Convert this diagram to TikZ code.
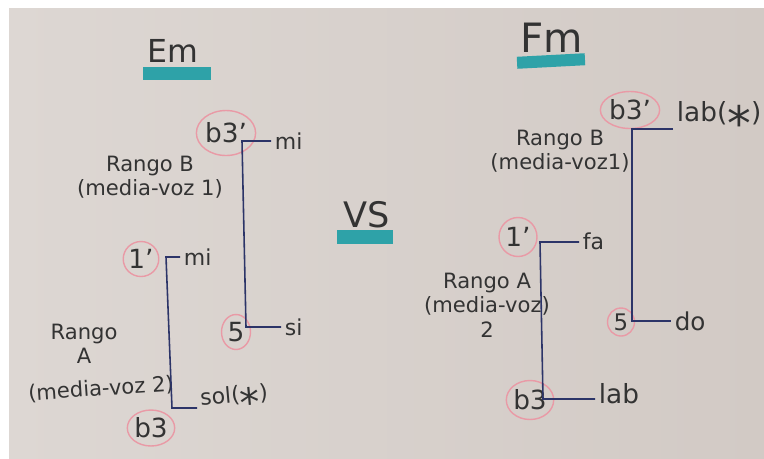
\documentclass[tikz,border=0pt]{standalone}
\usepackage{fontspec}
\setmainfont{DejaVu Sans}
\usetikzlibrary{shapes.geometric, positioning, calc}
\definecolor{paperlight}{HTML}{DDD7D3}
\definecolor{paperdark}{HTML}{D2CAC5}
\definecolor{markerteal}{HTML}{2EA2A8}
\definecolor{circlepink}{HTML}{E99AA6}
\definecolor{inknavy}{HTML}{2C3468}
\definecolor{pencil}{HTML}{333333}
\newcommand{\bigstar}{(\raisebox{-0.7em}{\scalebox{1.8}{*}})}

\begin{document}
\begin{tikzpicture}[
    x=0.02cm, y=-0.02cm,
    every node/.style={text=pencil},
    title/.style={font=\fontsize{20}{24}\selectfont, inner sep=1pt},
    marker/.style={fill=markerteal, minimum width=1.38cm, minimum height=0.26cm, inner sep=0pt},
    deg/.style={draw=circlepink, line width=0.8pt, ellipse, inner sep=0pt, minimum width=0.72cm, minimum height=0.74cm, font=\fontsize{15}{17}\selectfont},
    note/.style={font=\fontsize{12.5}{14}\selectfont, inner sep=2pt, anchor=west},
    rangetext/.style={font=\fontsize{12}{14}\selectfont, align=center, inner sep=1pt},
    bracket/.style={draw=inknavy, line width=0.9pt}
]
    % paper
    \useasboundingbox (0,0) rectangle (764,458);
    \fill[white] (0,0) rectangle (764,458);
    \shade[left color=paperlight, right color=paperdark] (9,8) rectangle (764,458);

    % Em side
    \node[title, font=\fontsize{18}{22}\selectfont] (em) at (173,51) {Em};
    \node[marker] (emBar) at (177,73) {};

    \node[deg, minimum width=0.76cm, minimum height=0.9cm] (eB3p) at (226,133) {b3'};
    \node[deg, minimum width=0.58cm, minimum height=0.7cm] (eFive) at (236,332) {5};
    \node[deg, minimum width=0.66cm, minimum height=0.7cm] (eOne) at (141,259) {1'};
    \node[deg, minimum width=0.78cm, minimum height=0.72cm] (eB3) at (151,428) {b3};

    \node[rangetext] (eRangeB) at (150,177) {Rango B\\(media-voz 1)};
    \node[rangetext] (eRangeA) at (84,344) {Rango\\A};
    \node[rangetext, rotate=4] (eVozA) at (101,389) {(media-voz 2)};

    \coordinate (eBtop) at (242,141);
    \coordinate (eBbot) at (246,327);
    \coordinate (eAtop) at (166,257);
    \coordinate (eAbot) at (172,408);

    \node[note] (eMiB) at (271,141) {mi};
    \node[note] (eSi) at (281,327) {si};
    \node[note] (eMiA) at (180,257) {mi};
    \node[note, rotate=5] (eSol) at (197,405) {sol\bigstar};

    \draw[bracket] (eBtop -| eMiB.west) -- (eBtop) -- (eBbot) -- (eBbot -| eSi.west);
    \draw[bracket] (eAtop -| eMiA.west) -- (eAtop) -- (eAbot) -- (eAbot -| eSol.west);

    % VS
    \node[title] (vs) at (367,215) {VS};
    \node[marker, minimum width=1.12cm, minimum height=0.28cm] (vsBar) at (365,237) {};

    % Fm side
    \node[title, font=\fontsize{23}{26}\selectfont] (fm) at (552,38) {Fm};
    \node[marker, minimum width=1.36cm, minimum height=0.24cm, rotate=3] (fmBar) at (551,61) {};

    \node[deg, minimum width=0.78cm, minimum height=0.74cm] (fB3p) at (630,110) {b3'};
    \node[deg, minimum width=0.54cm, minimum height=0.56cm, font=\fontsize{13}{15}\selectfont] (fFive) at (621,322) {5};
    \node[deg, minimum width=0.76cm, minimum height=0.78cm] (fOne) at (518,237) {1'};
    \node[deg, minimum width=0.8cm, minimum height=0.78cm] (fB3) at (530,400) {b3};

    \node[rangetext] (fRangeB) at (560,151) {Rango B\\(media-voz1)};
    \node[rangetext] (fRangeA) at (487,305) {Rango A\\(media-voz)\\2};

    \coordinate (fBtop) at (632,129);
    \coordinate (fBbot) at (632,321);
    \coordinate (fAtop) at (540,242);
    \coordinate (fAbot) at (543,399);

    \node[note, font=\fontsize{15}{17}\selectfont] (fLabB) at (673,121) {lab\bigstar};
    \node[note, font=\fontsize{14}{16}\selectfont] (fDo) at (671,321) {do};
    \node[note] (fFa) at (579,241) {fa};
    \node[note, font=\fontsize{15}{17}\selectfont] (fLab) at (595,394) {lab};

    \draw[bracket] (fBtop -| fLabB.west) -- (fBtop) -- (fBbot) -- (fBbot -| fDo.west);
    \draw[bracket] (fAtop -| fFa.west) -- (fAtop) -- (fAbot) -- (fAbot -| fLab.west);
\end{tikzpicture}
\end{document}
